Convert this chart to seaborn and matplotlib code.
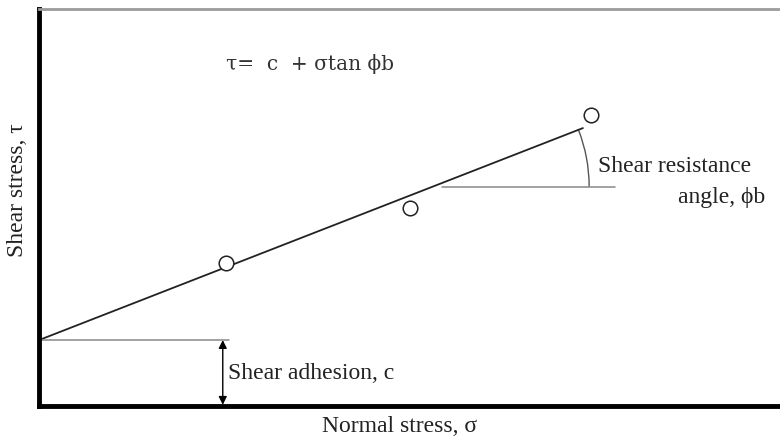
import matplotlib
matplotlib.use("Agg")
import matplotlib.pyplot as plt
import seaborn as sns
import pandas as pd
import numpy as np
from matplotlib.patches import Arc

sns.set_theme(style="white")
plt.rcParams['font.family'] = ['Liberation Serif', 'DejaVu Serif']

# Data (arbitrary units)
sigma_pts = [25.2, 50.1, 74.5]
tau_pts = [35.9, 49.9, 73.3]
fit_sigma = [0.0, 73.4]
fit_tau = [16.6, 70.0]
c_value = 16.6

formula = "τ=  c  + σtan ϕb"
xlabel = "Normal stress, σ"
ylabel = "Shear stress, τ"

pts = pd.DataFrame({"sigma": sigma_pts, "tau": tau_pts})
fit = pd.DataFrame({"sigma": fit_sigma, "tau": fit_tau})

fig = plt.figure(figsize=(7.8, 4.41), dpi=100)
ax = fig.add_axes([0.05, 0.0794, 0.95, 0.9002])

sns.lineplot(data=fit, x="sigma", y="tau", ax=ax, color="#222222", linewidth=1.3)
sns.scatterplot(data=pts, x="sigma", y="tau", ax=ax, s=110, facecolor="white",
                edgecolor="#222222", linewidth=1.1, zorder=5)

ax.set_xlim(0, 100)
ax.set_ylim(0, 100)
ax.set_xticks([])
ax.set_yticks([])
ax.set_xlabel("")
ax.set_ylabel("")

for side in ["left", "bottom"]:
    ax.spines[side].set_color("black")
    ax.spines[side].set_linewidth(3.5)
ax.spines["top"].set_color("#9a9a9a")
ax.spines["top"].set_linewidth(2)
ax.spines["right"].set_visible(False)

# cohesion reference line and arrow
ax.plot([0, 25.7], [c_value, c_value], color="#888888", linewidth=1.1)
ax.annotate("", xy=(24.8, 0.3), xytext=(24.8, c_value),
            arrowprops=dict(arrowstyle="<|-|>", color="black", lw=1.0,
                            mutation_scale=12, shrinkA=0, shrinkB=0))
ax.text(25.5, 8.1, "Shear adhesion, c", fontsize=17, va="center", ha="left", color="#222222")

# angle reference
slope = (fit_tau[1] - fit_tau[0]) / (fit_sigma[1] - fit_sigma[0])
yc = 55.2
xc = (yc - fit_tau[0]) / slope
ax.plot([54.4, 77.7], [yc, yc], color="#888888", linewidth=1.1)
R = 157
ang = np.degrees(np.arctan(slope))
ax.add_patch(Arc((xc, yc), width=2 * R / 7.41, height=2 * R / 3.97, theta1=0, theta2=ang,
                 color="#555555", linewidth=1.0))
ax.text(75.4, 58.9, "Shear resistance", fontsize=17, ha="left", va="baseline", color="#222222")
ax.text(98.0, 51.1, "angle, ϕb", fontsize=17, ha="right", va="baseline", color="#222222")

ax.text(25.2, 86.2, formula, fontsize=14.5, ha="left", va="center", color="#333333",
        family=["DejaVu Serif"])

fig.text(400 / 780, 1 - 426 / 441, xlabel, fontsize=17, ha="center", va="center", color="#222222")
fig.text(18 / 780, 1 - 190 / 441, ylabel, fontsize=17, ha="center", va="center", rotation=90, color="#222222")

fig.savefig("out.png", dpi=100)
